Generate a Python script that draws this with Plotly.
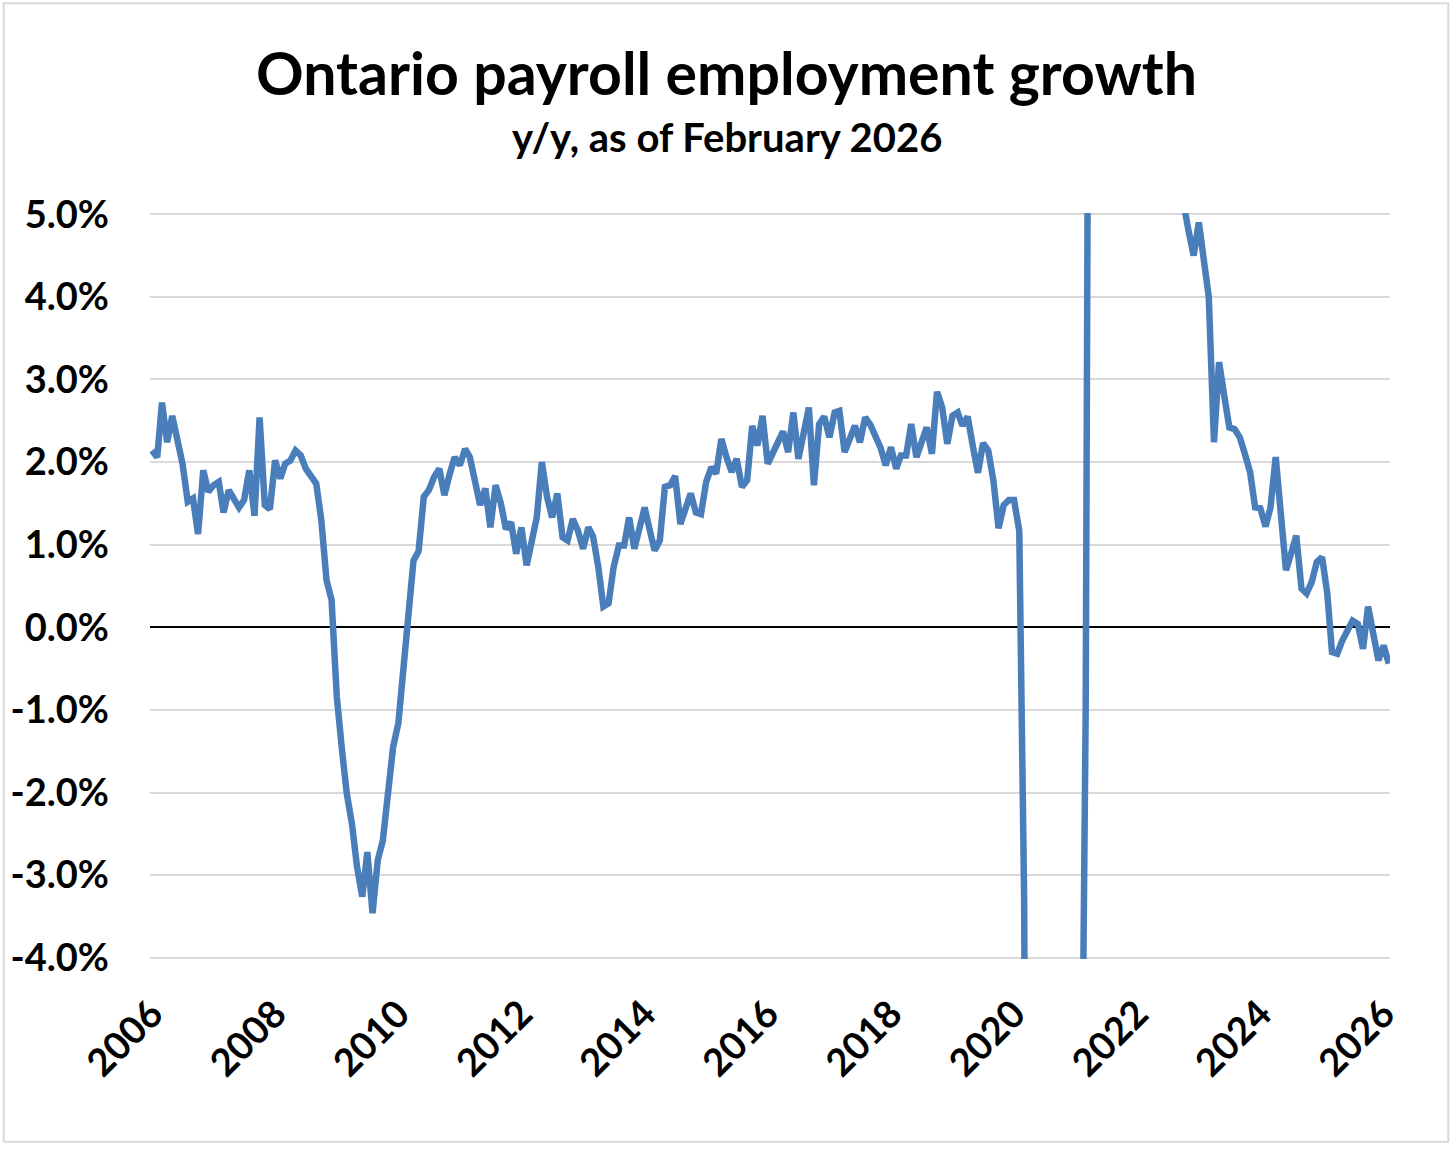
import pandas as pd
import plotly.graph_objects as go

# y/y % change in Ontario payroll employment, monthly, Jan 2006 - Feb 2026
growth_2006_2009 = [
    2.14, 2.06, 2.72, 2.24, 2.56, 2.25, 1.98, 1.52, 1.56, 1.13, 1.90, 1.64,
    1.72, 1.76, 1.39, 1.66, 1.56, 1.45, 1.54, 1.90, 1.35, 2.54, 1.48, 1.43,
    2.02, 1.80, 1.98, 2.02, 2.14, 2.08, 1.92, 1.82, 1.74, 1.30, 0.57, 0.33,
    -0.84, -1.49, -2.01, -2.38, -2.90, -3.26, -2.72, -3.46, -2.82, -2.58, -1.96, -1.45,
]
growth_2010_2014 = [
    -1.16, -0.46, 0.20, 0.81, 0.92, 1.58, 1.66, 1.82, 1.92, 1.60, 1.85, 2.06,
    1.96, 2.16, 2.06, 1.80, 1.48, 1.68, 1.21, 1.72, 1.50, 1.19, 1.27, 0.89,
    1.21, 0.75, 1.03, 1.33, 2.00, 1.58, 1.33, 1.62, 1.09, 1.05, 1.31, 1.17,
    0.95, 1.21, 1.10, 0.73, 0.25, 0.29, 0.73, 0.99, 0.99, 1.33, 0.95, 1.21,
    1.45, 1.17, 0.93, 1.05, 1.70, 1.72, 1.83, 1.25, 1.42, 1.62, 1.39, 1.37,
]
growth_2015_2019 = [
    1.76, 1.94, 1.86, 2.28, 2.06, 1.88, 2.04, 1.70, 1.78, 2.44, 2.20, 2.56,
    1.98, 2.12, 2.25, 2.37, 2.12, 2.60, 2.04, 2.35, 2.66, 1.72, 2.46, 2.55,
    2.30, 2.60, 2.62, 2.12, 2.28, 2.44, 2.24, 2.54, 2.45, 2.33, 2.17, 1.96,
    2.18, 1.92, 2.08, 2.08, 2.46, 2.06, 2.24, 2.42, 2.10, 2.85, 2.66, 2.22,
    2.56, 2.60, 2.44, 2.55, 2.20, 1.87, 2.23, 2.14, 1.77, 1.20, 1.48, 1.54,
]
growth_2020_2022 = [
    1.54, 1.17, -3.3, -17.0, -15.5, -11.5, -9.0, -7.5, -6.5, -6.0, -5.5, -6.0,
    -7.2, -7.3, -1.0, 16.0, 13.5, 11.0, 9.5, 8.5, 7.8, 7.0, 6.8, 6.5,
    5.8, 6.4, 7.0, 6.8, 6.5, 6.2, 6.0, 5.8, 5.5, 5.15, 4.8, 4.50,
]
growth_2023_2026 = [
    4.90, 4.45, 4.00, 2.24, 3.21, 2.80, 2.42, 2.40, 2.30, 2.10, 1.88, 1.45,
    1.44, 1.22, 1.45, 2.06, 1.45, 0.69, 0.89, 1.11, 0.47, 0.41, 0.55, 0.79,
    0.85, 0.41, -0.30, -0.32, -0.16, -0.02, 0.08, 0.04, -0.26, 0.25, -0.04, -0.40,
    -0.22, -0.44,
]

growth = (growth_2006_2009 + growth_2010_2014 + growth_2015_2019
          + growth_2020_2022 + growth_2023_2026)
months = pd.date_range("2006-01-01", periods=len(growth), freq="MS")

y_ticks = [5, 4, 3, 2, 1, 0, -1, -2, -3, -4]
y_labels = ["%.1f%%" % v for v in y_ticks]

font_name = "Lato"
blue = "#4a7ebb"

fig = go.Figure()
fig.add_trace(go.Scatter(
    x=months, y=growth, mode="lines",
    line=dict(color=blue, width=6.5),
    hoverinfo="skip", showlegend=False))

fig.update_layout(
    width=1456, height=1149,
    margin=dict(l=150, r=66, t=213, b=190),
    paper_bgcolor="white", plot_bgcolor="white",
    font=dict(family=font_name, color="black"),
    annotations=[
        dict(text="<b>Ontario payroll employment growth</b>", xref="paper", yref="paper",
             x=0.465, y=1.189, xanchor="center", yanchor="middle", showarrow=False,
             font=dict(size=59, family=font_name)),
        dict(text="<b>y/y, as of February 2026</b>", xref="paper", yref="paper",
             x=0.465, y=1.102, xanchor="center", yanchor="middle", showarrow=False,
             font=dict(size=40, family=font_name)),
    ],
    shapes=[
        dict(type="rect", xref="paper", yref="paper",
             x0=-0.118, x1=1.047, y0=-0.245, y1=1.281,
             line=dict(color="#d9d9d9", width=2), layer="below"),
    ],
)

fig.update_xaxes(
    range=["2005-12-20", "2026-02-08"],
    tick0="2006-01-01", dtick="M24", tickformat="%Y",
    tickangle=-45, ticklabelstandoff=24,
    tickfont=dict(size=38, family=font_name, weight="bold"),
    showgrid=False, showline=False, zeroline=False, ticks="")

# range padded a hair so the 5% and -4% gridlines are drawn
fig.update_yaxes(
    range=[-4.015, 5.015], tickvals=y_ticks, ticktext=y_labels,
    ticklabelstandoff=40,
    tickfont=dict(size=38, family=font_name, weight="bold"),
    showgrid=True, gridcolor="#d9d9d9", gridwidth=2,
    zeroline=True, zerolinecolor="black", zerolinewidth=2,
    showline=False, ticks="")

# the page's default body margin would push the chart 8px off the window corner
fig.write_html("out.html", config={"displayModeBar": False},
               post_script="document.body.style.margin = '0';")
